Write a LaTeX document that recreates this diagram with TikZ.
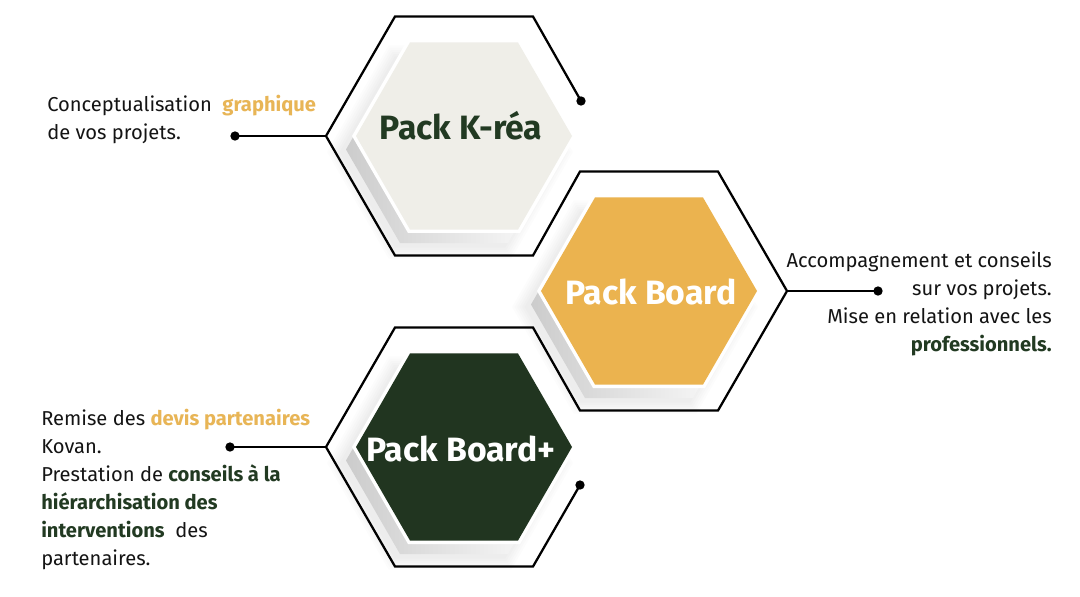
\documentclass[tikz,border=0pt]{standalone}
\usepackage{fontspec}
\setmainfont{Fira Sans}
\usetikzlibrary{calc}
\definecolor{lightfill}{HTML}{EFEEE8}
\definecolor{orangefill}{HTML}{EBB34F}
\definecolor{greenfill}{HTML}{213520}
\definecolor{orangetext}{HTML}{E8B556}
\definecolor{greentext}{HTML}{223A22}
\definecolor{bodytext}{HTML}{141414}
\tikzset{
  outline/.style={draw=black, line width=1.7pt, line join=miter},
  connector/.style={draw=black, line width=1.7pt},
  dotmark/.style={fill=black, circle, inner sep=0pt, minimum size=7pt},
  title/.style={font=\fontsize{25.3}{28}\selectfont\bfseries, inner sep=0pt, anchor=base},
  bodytxt/.style={font=\fontsize{15.1}{21}\selectfont, text=bodytext, inner sep=0pt},
}
\newcommand\hexshape[3]{[shift={(#1,#2)}] (0:#3) -- (60:#3) -- (120:#3) -- (180:#3) -- (240:#3) -- (300:#3) -- cycle}
\newcommand\orgbold[1]{\textcolor{orangetext}{\textbf{#1}}}
\newcommand\grnbold[1]{\textcolor{greentext}{\textbf{#1}}}
\begin{document}
\begin{tikzpicture}[x=0.75pt,y=-0.75pt]
\useasboundingbox (0,0) rectangle (1080,596);
\fill[white] (0,0) rectangle (1080,596);
% soft shadows, grey extrusions, white rings and fills
\foreach \cx/\cy/\col in {464/136/lightfill, 649/291/orangefill, 464/447/greenfill}{
  \foreach \k in {1,...,6}{
    \fill[black, opacity=0.012] \hexshape{\cx-14}{\cy+16}{108+2.5*\k};
  }
  \shade[left color=black!20, right color=white] \hexshape{\cx-10}{\cy+13.5}{108};
  \fill[white] \hexshape{\cx}{\cy}{112};
  \fill[\col] \hexshape{\cx}{\cy}{108};
}
% outline coordinates
\coordinate (d1) at (581,101);
\coordinate (h1tr) at (533,16.5);
\coordinate (h1tl) at (395,16.5);
\coordinate (h1l) at (326,136);
\coordinate (h1bl) at (395,255.5);
\coordinate (h1br) at (533,255.5);
\coordinate (h2tl) at (580,171.5);
\coordinate (h2tr) at (718,171.5);
\coordinate (h2r) at (787,291);
\coordinate (h2br) at (718,410.5);
\coordinate (h2bl) at (580,410.5);
\coordinate (h3tr) at (533,327.5);
\coordinate (h3tl) at (395,327.5);
\coordinate (h3l) at (326,447);
\coordinate (h3bl) at (395,566.5);
\coordinate (h3br) at (533,566.5);
\coordinate (d3) at (580,485);
\node[dotmark] (n1) at (d1) {};
\node[dotmark] (n3) at (d3) {};
\node[dotmark] (nL1) at (235,136) {};
\node[dotmark] (nR2) at (878,291) {};
\node[dotmark] (nL3) at (230,447) {};
\draw[outline] (n1.center) -- (h1tr) -- (h1tl) -- (h1l) -- (h1bl) -- (h1br) -- (h2tl) -- (h2tr) -- (h2r) -- (h2br) -- (h2bl) -- (h3tr) -- (h3tl) -- (h3l) -- (h3bl) -- (h3br) -- (n3.center);
\draw[connector] (h1l) -- (nL1.center);
\draw[connector] (h2r) -- (nR2.center);
\draw[connector] (h3l) -- (nL3.center);
% titles
\node[title, text=greentext] (t1) at (461,139) {Pack K-réa};
\node[title, text=white] (t2) at (651,304) {Pack Board};
\node[title, text=white] (t3) at (461,461) {Pack Board+};
% texts (base anchor = baseline of the last line)
\node[bodytxt, anchor=base west, align=left, font=\fontsize{15.1}{20.3}\selectfont] (txt1) at (47,139) {Conceptualisation \ \orgbold{graphique}\\de vos projets.};
\node[bodytxt, anchor=base east, align=right] (txt2) at (1052,351) {Accompagnement et conseils\\sur vos projets.\\Mise en relation avec les\\\grnbold{professionnels.}};
\node[bodytxt, anchor=base west, align=left] (txt3) at (41,565) {Remise des \orgbold{devis partenaires}\\Kovan.\\Prestation de \grnbold{conseils à la}\\\grnbold{hiérarchisation des}\\\grnbold{interventions} \ des\\partenaires.};
\end{tikzpicture}
\end{document}
